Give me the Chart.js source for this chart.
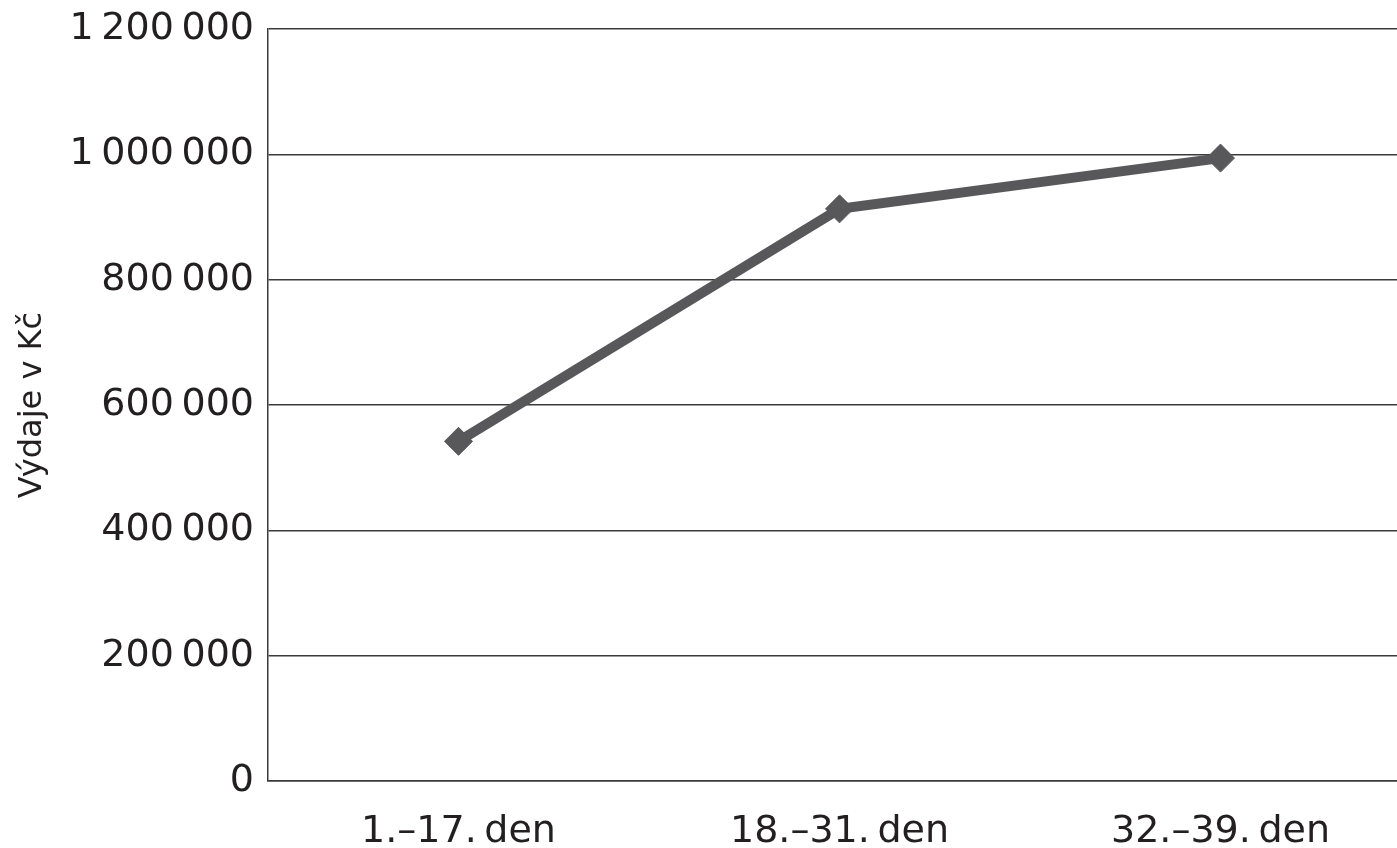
<!DOCTYPE html>
<html>
<head>
<meta charset="utf-8">
<script src="https://cdn.jsdelivr.net/npm/chart.js@4.4.0/dist/chart.umd.min.js"></script>
<style>
  html, body { margin: 0; padding: 0; background: #fff; overflow: hidden; }
  #wrap { position: absolute; left: 0; top: 0; width: 1426px; height: 848px; }
</style>
</head>
<body>
<div id="wrap"><canvas id="c" width="1426" height="848"></canvas></div>
<script>
const categories = ['1.\u201317.\u2009den', '18.\u201331.\u2009den', '32.\u201339.\u2009den'];
const expenses = [542000, 913000, 994000];
const yTicks = [0, 200000, 400000, 600000, 800000, 1000000, 1200000];
const yTitle = 'Výdaje v Kč';

function fmt(v) {
  return String(v).replace(/\B(?=(\d{3})+(?!\d))/g, '\u2009');
}

const lineColor = '#58585a';
const axisColor = '#3a3a3a';
const textColor = '#231f20';

new Chart(document.getElementById('c'), {
  type: 'line',
  data: {
    labels: categories,
    datasets: [{
      data: expenses,
      borderColor: lineColor,
      backgroundColor: lineColor,
      borderWidth: 10,
      pointStyle: 'rectRot',
      pointRadius: 14,
      pointBorderWidth: 1,
      pointBackgroundColor: lineColor,
      pointBorderColor: lineColor,
      tension: 0,
      fill: false
    }]
  },
  options: {
    responsive: false,
    animation: false,
    devicePixelRatio: 1,
    layout: { padding: { top: 0, left: 0, right: 0, bottom: 0 } },
    plugins: { legend: { display: false }, tooltip: { enabled: false } },
    scales: {
      x: {
        type: 'category',
        offset: true,
        grid: { drawOnChartArea: false, drawTicks: false, tickLength: 0 },
        border: { display: true, color: axisColor, width: 1.5 },
        ticks: {
          color: textColor,
          padding: 32,
          maxRotation: 0,
          font: { family: 'DejaVu Sans', size: 38, lineHeight: 1 }
        },
        afterFit: (s) => { s.height = 67; }
      },
      y: {
        min: 0,
        max: 1200000,
        afterBuildTicks: (s) => { s.ticks = yTicks.map(v => ({ value: v })); },
        grid: { color: axisColor, lineWidth: 1.5, drawTicks: false, tickLength: 0 },
        border: { display: true, color: axisColor, width: 1.5 },
        ticks: {
          color: textColor,
          padding: 14,
          font: { family: 'DejaVu Sans', size: 38, lineHeight: 0.79 },
          callback: (v) => fmt(v)
        },
        title: {
          display: true,
          text: yTitle,
          color: textColor,
          font: { family: 'DejaVu Sans', size: 32, lineHeight: 1 },
          padding: { top: 17, bottom: 0 }
        },
        afterFit: (s) => { s.width = 268; }
      }
    }
  }
});
</script>
</body>
</html>
